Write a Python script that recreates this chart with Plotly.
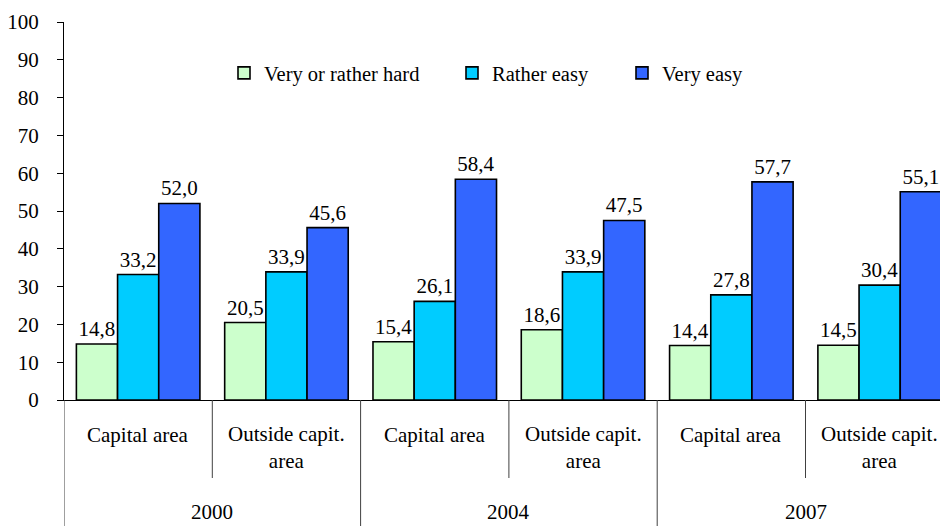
import plotly.graph_objects as go

groups = ["Capital area", "Outside capit.<br>area", "Capital area", "Outside capit.<br>area", "Capital area", "Outside capit.<br>area"]
years = ["2000", "2004", "2007"]
series_names = ["Very or rather hard", "Rather easy", "Very easy"]
hard = [14.8, 20.5, 15.4, 18.6, 14.4, 14.5]
rather_easy = [33.2, 33.9, 26.1, 33.9, 27.8, 30.4]
very_easy = [52.0, 45.6, 58.4, 47.5, 57.7, 55.1]
colors = ["#CCFFCC", "#00CCFF", "#3366FF"]

FONT = "Liberation Serif"
OFF = 8  # default page margin of the browser
W, H = 940 - OFF, 526 - OFF
L, R, T, B = 64 - OFF, 0, 22 - OFF, 126
pw = W - L - R
ph = H - T - B
GROUP_PX = 148.3

xs = list(range(len(groups)))
fig = go.Figure()
legends = ["legend", "legend2", "legend3"]
for name, vals, col, lg in zip(series_names, [hard, rather_easy, very_easy], colors, legends):
    fig.add_trace(go.Bar(
        x=xs, y=vals, name=name, legend=lg,
        marker=dict(color=col, line=dict(color="black", width=1.6)),
        texttemplate="%{y:.1f}", textposition="outside", cliponaxis=False,
        textfont=dict(family=FONT, size=21, color="black"),
    ))

def px2paper_x(p):
    return (p - OFF - L) / pw

def px2paper_y(p):
    return (H - B - (p - OFF)) / ph

leg_common = dict(orientation="h", yanchor="middle", xanchor="left",
                  font=dict(family=FONT, size=20.5, color="black"),
                  bgcolor="rgba(0,0,0,0)", borderwidth=0)
fig.update_layout(
    legend=dict(x=px2paper_x(224), y=px2paper_y(73), **leg_common),
    legend2=dict(x=px2paper_x(452), y=px2paper_y(73), **leg_common),
    legend3=dict(x=px2paper_x(622), y=px2paper_y(73), **leg_common),
)

shapes = []
annotations = []
for i in range(len(groups) + 1):
    xpos = i - 0.5
    long_line = (i % 2 == 0)
    shapes.append(dict(type="line", xref="x", yref="paper", x0=xpos, x1=xpos,
                       y0=0, y1=px2paper_y(526) if long_line else px2paper_y(478),
                       line=dict(color="#404040", width=1)))
for i, g in enumerate(groups):
    annotations.append(dict(x=i, y=px2paper_y(435) if "<br>" not in g else px2paper_y(447),
                            xref="x", yref="paper", text=g, showarrow=False,
                            font=dict(family=FONT, size=21, color="black"),
                            xanchor="center", yanchor="middle"))
for j, yr in enumerate(years):
    annotations.append(dict(x=2 * j + 0.5, y=px2paper_y(512), xref="x", yref="paper",
                            text=yr, showarrow=False,
                            font=dict(family=FONT, size=21, color="black"),
                            xanchor="center", yanchor="middle"))

fig.update_layout(
    width=W, height=H,
    margin=dict(l=L, r=R, t=T, b=B, pad=0),
    paper_bgcolor="white", plot_bgcolor="white",
    barmode="group", bargap=0.167, bargroupgap=0,
    separators=",.",
    showlegend=True,
    shapes=shapes, annotations=annotations,
    xaxis=dict(range=[-0.5, -0.5 + pw / GROUP_PX], showticklabels=False, ticks="",
               showgrid=False, zeroline=False, showline=True, linecolor="black",
               linewidth=1, fixedrange=True),
    yaxis=dict(range=[0, 100], dtick=10, tick0=0, ticks="outside", ticklen=6,
               tickcolor="black", showline=True, linecolor="black", linewidth=1,
               showgrid=False, zeroline=False, ticklabelstandoff=14,
               tickfont=dict(family=FONT, size=21, color="black")),
)

fig.write_html("out.html")
